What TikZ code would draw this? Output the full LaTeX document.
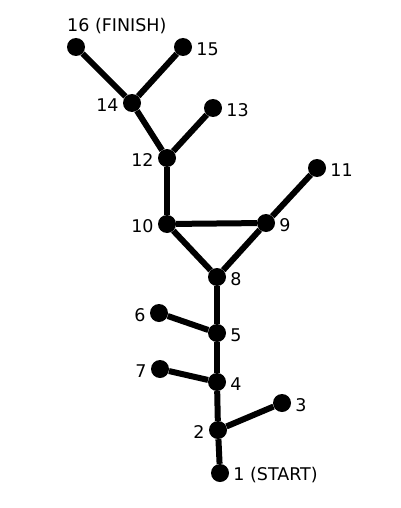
\documentclass[tikz,border=0pt]{standalone}
\usepackage{fontspec}
\setmainfont{DejaVu Sans}
\begin{document}
\begin{tikzpicture}[x=1pt,y=-1pt,font=\fontsize{17.5}{20}\selectfont,
  dot/.style={circle,fill=black,minimum size=18pt,inner sep=0pt},
  lab/.style={inner sep=1pt,label distance=3pt,yshift=-2pt},
  edge/.style={line width=6pt}]
 \useasboundingbox (0,0) rectangle (401,508);
 % vertices
 \foreach \n/\x/\y/\p in {2/218/430/left,3/282/403/right,4/217/382/right,
   5/217/333/right,6/159/313/left,7/160/369/left,8/217/277/right,
   9/266/223/right,10/167/224/left,11/317/168/right,12/167/158/left,
   13/213/108/right,14/132/103/left,15/183/47/right}
   \node[dot,label={[lab]\p:\n}] (n\n) at (\x,\y) {};
 \node[dot,label={[lab]right:1 (START)}] (n1) at (220,473) {};
 \node[dot,label={[inner sep=1pt,anchor=south west,xshift=-10pt,yshift=3pt]north:16 (FINISH)}] (n16) at (76,47) {};
 % edges
 \foreach \a/\b in {1/2,2/3,2/4,4/7,4/5,5/6,5/8,8/10,8/9,9/10,9/11,10/12,
   12/13,12/14,14/15,14/16}
   \draw[edge] (n\a) -- (n\b);
\end{tikzpicture}
\end{document}
